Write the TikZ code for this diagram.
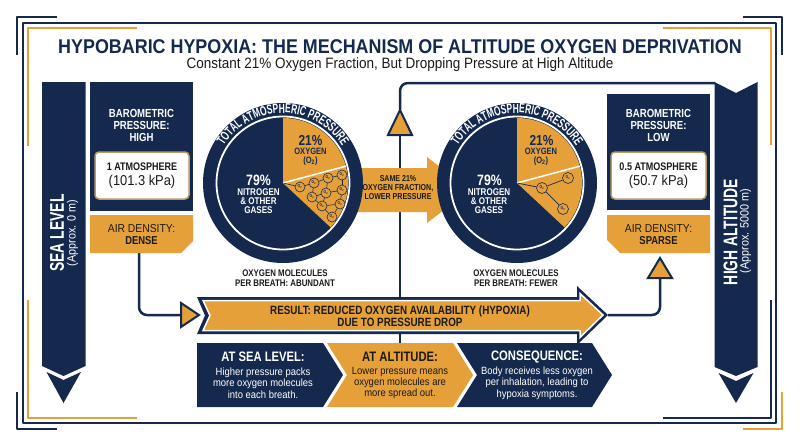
\documentclass[tikz,border=0pt]{standalone}
\usepackage{fontspec}
\setmainfont{Liberation Sans}
\newfontfamily\cond[FakeStretch=0.9]{Liberation Sans}
\newfontfamily\condb[FakeStretch=0.82]{Liberation Sans}
\newfontfamily\narrow[FakeStretch=0.7]{Liberation Sans}
\newfontfamily\ringfont[FakeStretch=0.64]{Liberation Sans}
\usetikzlibrary{decorations.text,calc}
\definecolor{navy}{HTML}{14294D}
\definecolor{amber}{HTML}{E6A03A}
\definecolor{rimtan}{HTML}{B79A66}
\definecolor{ink}{HTML}{1A1A1A}
\newcommand{\fsz}[2]{\fontsize{#1}{#2}\selectfont}
\tikzset{
	txt/.style={inner sep=0pt, align=center},
	bw/.style 2 args={txt, text=white, font=\condb\bfseries\fsz{#1}{#2}},
	bk/.style 2 args={txt, text=ink, font=\condb\bfseries\fsz{#1}{#2}},
	bn/.style 2 args={txt, text=navy, font=\condb\bfseries\fsz{#1}{#2}},
	rw/.style 2 args={txt, text=white, font=\cond\fsz{#1}{#2}},
	rk/.style 2 args={txt, text=ink, font=\cond\fsz{#1}{#2}},
	conn/.style={navy, line width=2.5, rounded corners=8},
	tri/.style={fill=amber, draw=navy, line width=2, line join=miter},
	navybox/.style={fill=navy, inner sep=0pt},
	valbox/.style={fill=white, draw=rimtan, line width=1.5, rounded corners=4, txt, text=ink, font=\cond\fsz{14.3}{15}},
	mol/.style={circle, fill=amber, draw=navy, line width=0.6, inner sep=0pt, minimum size=#1, text=navy, font=\condb\bfseries\fsz{4.2}{4.2}}
}

\begin{document}
\begin{tikzpicture}[x=1pt, y=1pt, line join=round]
	\useasboundingbox (0,0) rectangle (800,-447);
	% frame
	\draw[navy, line width=2] (23,-23) rectangle (776,-423);
	\draw[navy, line width=2] (17,-55) -- (17,-17) -- (57,-17);
	\draw[navy, line width=2] (743,-17) -- (782,-17) -- (782,-55);
	\draw[navy, line width=2] (17,-392) -- (17,-429) -- (57,-429);
	\draw[navy, line width=2] (771,-300) -- (771,-418) -- (663,-418);
	\draw[amber, line width=1.6] (28,-146) -- (28,-28) -- (137,-28);
	\draw[amber, line width=1.6] (663,-28) -- (771,-28) -- (771,-145);
	\draw[amber, line width=1.6] (28,-300) -- (28,-418) -- (137,-418);
	\draw[amber, line width=2] (782,-392) -- (782,-429) -- (743,-429);

	\node[anchor=base, text=navy, font=\cond\bfseries\fsz{19.9}{21}] (title) at (400,-53) {HYPOBARIC HYPOXIA: THE MECHANISM OF ALTITUDE OXYGEN DEPRIVATION};
	\node[anchor=base, text=ink, font=\cond\fsz{15}{16}] (subtitle) at (400,-68) {Constant 21\% Oxygen Fraction, But Dropping Pressure at High Altitude};

	\coordinate (lpie) at (283,-183);
	\coordinate (rpie) at (517,-183);
	\coordinate (sldrop) at (139,-253);
	\coordinate (slin) at (181,-315);
	\coordinate (haout) at (608,-315);
	\coordinate (hain) at (660,-278);
	\coordinate (hub) at (400,-343);
	\coordinate (upbase) at (400,-135);
	\coordinate (uptip) at (400,-110);
	\coordinate (habar) at (715,-83);

	% connectors
	\draw[conn] (sldrop) |- (slin);
	\draw[conn] (haout) -| (hain);
	\draw[conn] (hub) -- (upbase);
	\draw[conn] (uptip) |- (habar);

	% same fraction arrow
	\fill[amber] (350,-168) -- (427,-168) -- (427,-157) -- (470,-190) -- (427,-223) -- (427,-212) -- (350,-212) -- cycle;

	% pies
	\foreach \p in {lpie,rpie}{
		\fill[navy] (\p) circle (80);
		\draw[white, line width=1.8] (\p) circle (66.5);
		\fill[amber] (\p) -- ++(90:65) arc[start angle=90, end angle=-43, radius=65] -- cycle;
		\draw[white, line width=1.5] (\p) -- ++(15:65);
		\path[decorate, decoration={text along path, text align=center, text color=white,
			text={|\ringfont\bfseries\fsz{13.2}{13.2}|TOTAL ATMOSPHERIC PRESSURE}}]
			($(\p)+(152:70)$) arc[start angle=152, end angle=28, radius=70];
	}
	\node[bk={8.6}{9}] (same) at (398,-188) {SAME 21\%\\OXYGEN FRACTION,\\LOWER PRESSURE};
	\node[bn={14.5}{14}] (lpct) at (310.5,-140) {21\%};
	\node[bn={9.2}{9.5}] (lox) at (310.5,-156.5) {OXYGEN\\(O\textsubscript{2})};
	\node[bw={15}{14.5}] (lnpct) at (258.5,-180) {79\%};
	\node[bw={9.8}{9.3}] (lnit) at (258.5,-201) {NITROGEN\\\& OTHER\\GASES};
	\node[bn={14.5}{14}] (rpct) at (541.5,-140) {21\%};
	\node[bn={9.2}{9.5}] (rox) at (541,-156.5) {OXYGEN\\(O\textsubscript{2})};
	\node[bw={15}{14.5}] (rnpct) at (489.5,-180) {79\%};
	\node[bw={9.8}{9.3}] (rnit) at (489,-201) {NITROGEN\\\& OTHER\\GASES};

	% oxygen molecules
	\foreach \i/\x/\y in {1/300/187,2/314/183,3/328/178,4/342/175,5/312/197,6/326/193,7/342/190,8/322/206,9/340/204,10/332/217}
		\node[mol=10] (lm\i) at (\x,-\y) {O\textsubscript{2}};
	\draw[navy, line width=0.6] (lpie) -- (lm1);
	\foreach \a/\b in {1/2,2/3,3/4,2/5,5/6,6/3,6/7,4/7,5/8,6/8,7/9,8/9,8/10,9/10}
		\draw[navy, line width=0.6] (lm\a) -- (lm\b);
	\foreach \i/\x/\y in {1/542/188,2/568/178,3/563/209}
		\node[mol=11] (rm\i) at (\x,-\y) {O\textsubscript{2}};
	\draw[navy, line width=0.7] (rpie) -- (rm1) (rm1) -- (rm2) (rm1) -- (rm3);

	\node[bk={9.6}{10}] (slcap) at (285,-278) {OXYGEN MOLECULES\\PER BREATH: ABUNDANT};
	\node[bk={9.6}{10}] (hacap) at (516,-278) {OXYGEN MOLECULES\\PER BREATH: FEWER};

	% sea level side
	\fill[navy] (42,-82) -- (85.5,-82) -- (85.5,-366) -- (63.5,-376) -- (42,-366) -- cycle;
	\fill[navy] (46.5,-372) -- (63.5,-380) -- (81,-372) -- (63.5,-403) -- cycle;
	\node[txt, text=white, font=\narrow\bfseries\fsz{19.8}{20}, rotate=90] (sltitle) at (57,-233) {SEA LEVEL};
	\node[rw={12}{12}, rotate=90] (slalt) at (72.5,-233) {(Approx. 0 m)};
	\node[navybox, minimum width=103, minimum height=129] (slbaro) at (141.5,-146.5) {};
	\node[bw={11.7}{12}] (slbarotxt) at (141.5,-125) {BAROMETRIC\\PRESSURE:\\HIGH};
	\node[valbox, minimum width=94, minimum height=47] (slval) at (142,-175.5) {{\condb\bfseries\fsz{11}{12}1 ATMOSPHERE}\\(101.3 kPa)};
	\fill[amber] (90,-215) -- (193,-215) -- (193,-241) -- (181,-253) -- (90,-253) -- cycle;
	\node[rk={11.5}{12}] (sldens) at (141.5,-235) {AIR DENSITY:\\{\condb\bfseries DENSE}};

	% high altitude side
	\fill[navy] (714.5,-82) -- (736,-93) -- (757.5,-82) -- (757.5,-367) -- (736,-376) -- (714.5,-367) -- cycle;
	\fill[navy] (718.5,-373) -- (736,-381) -- (753.5,-373) -- (736,-403) -- cycle;
	\node[txt, text=white, font=\narrow\bfseries\fsz{19.8}{20}, rotate=90] (hatitle) at (730.5,-232) {HIGH ALTITUDE};
	\node[rw={12}{12}, rotate=90] (haalt) at (745.5,-231) {(Approx. 5000 m)};
	\node[navybox, minimum width=103, minimum height=116] (habaro) at (658.5,-152) {};
	\node[bw={11.7}{12}] (habarotxt) at (658.5,-125) {BAROMETRIC\\PRESSURE:\\LOW};
	\node[valbox, minimum width=95, minimum height=47] (haval) at (658.5,-175.5) {{\condb\bfseries\fsz{11}{12}0.5 ATMOSPHERE}\\(50.7 kPa)};
	\fill[amber] (607,-215) -- (710,-215) -- (710,-253) -- (620,-253) -- (607,-240) -- cycle;
	\node[rk={11.5}{12}] (hadens) at (658.5,-235) {AIR DENSITY:\\{\condb\bfseries SPARSE}};

	% chevrons
	\fill[navy] (197,-343) -- (323,-343) -- (343,-375) -- (323,-407) -- (197,-407) -- cycle;
	\fill[amber] (327,-343) -- (453,-343) -- (473,-375) -- (453,-407) -- (327,-407) -- (347,-375) -- cycle;
	\fill[navy] (457,-343) -- (592,-343) -- (612,-375) -- (592,-407) -- (457,-407) -- (477,-375) -- cycle;
	\node[bw={13.7}{14}] (c1h) at (263,-357) {AT SEA LEVEL:};
	\node[rw={10.5}{11.3}] (c1b) at (263,-383) {Higher pressure packs\\more oxygen molecules\\into each breath.};
	\node[bk={13.7}{14}] (c2h) at (400,-357) {AT ALTITUDE:};
	\node[rk={10.5}{11.3}] (c2b) at (400,-383) {Lower pressure means\\oxygen molecules are\\more spread out.};
	\node[bw={13.7}{14}] (c3h) at (537,-357) {CONSEQUENCE:};
	\node[rw={10.5}{11.3}] (c3b) at (537,-383) {Body receives less oxygen\\per inhalation, leading to\\hypoxia symptoms.};

	% result arrow
	\fill[navy] (197,-297) -- (577,-297) -- (577,-286) -- (608,-315) -- (577,-345) -- (577,-334) -- (197,-334) -- (205,-315.5) -- cycle;
	\draw[white, fill=amber, line width=1.5, line join=miter] (203,-300.5) -- (580,-300.5) -- (580,-293.5) -- (603,-315) -- (580,-337.5) -- (580,-330.5) -- (203,-330.5) -- (210,-315.5) -- cycle;
	\node[bk={12}{12}] (result) at (400,-316.5) {RESULT: REDUCED OXYGEN AVAILABILITY (HYPOXIA)\\DUE TO PRESSURE DROP};

	% arrow heads
	\draw[tri] ([yshift=12]slin) -- ++(18,-12) -- ++(-18,-12) -- cycle;
	\draw[tri] ([xshift=-12]upbase) -- (uptip) -- ([xshift=12]upbase) -- cycle;
	\draw[tri] ([xshift=-12]hain) -- ++(12,20) -- ++(12,-20) -- cycle;
\end{tikzpicture}
\end{document}
